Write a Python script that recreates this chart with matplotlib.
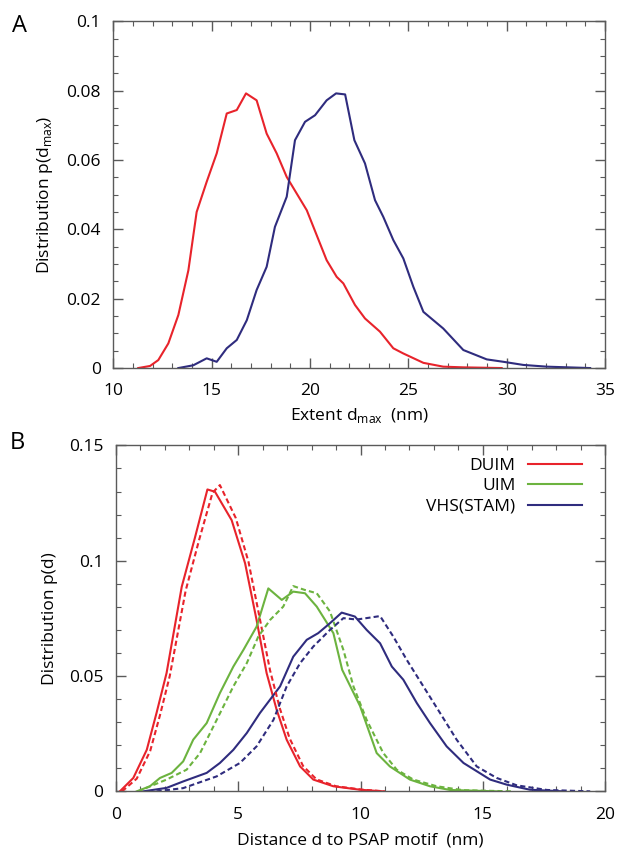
import matplotlib
matplotlib.use("Agg")
import matplotlib.pyplot as plt
from matplotlib.ticker import MultipleLocator

plt.rcParams['font.family'] = ['Open Sans', 'DejaVu Sans']

RED = '#e8232b'
GREEN = '#6cb33f'
BLUE = '#2f2c7e'

# Panel A: extent d_max (nm) distributions
a_red_x = [11.26, 11.86, 12.28, 12.79, 13.30, 13.81, 14.23, 14.74, 15.25, 15.76, 16.27, 16.74,
           17.28, 17.79, 18.30, 18.81, 19.83, 20.84, 21.35, 21.69, 22.28, 22.79, 23.55, 24.23,
           24.74, 25.76, 26.77, 27.79, 29.74]
a_red_y = [0.0, 0.0006, 0.0023, 0.0071, 0.0153, 0.0282, 0.045, 0.0537, 0.0619, 0.0734, 0.0744, 0.0792,
           0.0772, 0.0676, 0.0619, 0.0551, 0.0455, 0.0311, 0.0263, 0.0244, 0.0182, 0.0143, 0.0105, 0.0057,
           0.0042, 0.0015, 0.0004, 0.0002, 0.0]
a_blue_x = [13.3, 14.06, 14.74, 15.25, 15.76, 16.27, 16.78, 17.28, 17.79, 18.21, 18.81, 19.23,
            19.74, 20.25, 20.84, 21.32, 21.78, 22.25, 22.79, 23.30, 23.72, 24.23, 24.74, 25.25,
            25.76, 26.77, 27.79, 28.98, 29.83, 30.84, 32.03, 34.24]
a_blue_y = [0.0, 0.0008, 0.0028, 0.0018, 0.0057, 0.0081, 0.0138, 0.0225, 0.0292, 0.0407, 0.0494, 0.0657,
            0.0710, 0.0729, 0.0772, 0.0792, 0.0789, 0.0657, 0.059, 0.0484, 0.0436, 0.0369, 0.0316, 0.0234,
            0.0162, 0.0114, 0.0052, 0.0025, 0.0018, 0.0009, 0.0004, 0.0]

# Panel B: distance d to PSAP motif (nm), solid and dashed per construct
duim_x = [0.16, 0.71, 1.26, 1.66, 2.07, 2.69, 3.23, 3.74, 4.05, 4.73, 5.28, 5.75, 6.16, 6.57,
          6.98, 7.53, 8.07, 8.89, 9.98, 10.93]
duim_y = [0.0, 0.0058, 0.018, 0.034, 0.0513, 0.0887, 0.110, 0.1309, 0.1299, 0.1176, 0.0989, 0.0743,
          0.0513, 0.0354, 0.0224, 0.0108, 0.0051, 0.0022, 0.0007, 0.0]
duim_dash_x = [0.25, 0.85, 1.4, 1.8, 2.2, 2.85, 3.4, 3.95, 4.25, 4.9, 5.42, 5.88, 6.3, 6.7,
               7.1, 7.65, 8.2, 9.0, 10.1, 11.0]
duim_dash_y = [0.0, 0.0055, 0.0175, 0.033, 0.050, 0.087, 0.109, 0.1295, 0.1328, 0.1185, 0.0995, 0.075,
               0.0525, 0.036, 0.023, 0.011, 0.0052, 0.0022, 0.0007, 0.0]

uim_x = [0.85, 1.39, 1.8, 2.28, 2.75, 3.16, 3.71, 4.25, 4.80, 5.21, 5.75, 6.23, 6.78, 7.25, 7.73,
         8.21, 8.89, 9.25, 9.98, 10.66, 11.2, 12.02, 12.84, 13.66, 15.57]
uim_y = [0.0, 0.0022, 0.0058, 0.008, 0.013, 0.0224, 0.0296, 0.0426, 0.0541, 0.0613, 0.0714, 0.088,
         0.083, 0.0866, 0.0859, 0.0801, 0.0686, 0.0527, 0.037, 0.0166, 0.0108, 0.0051, 0.0022, 0.0006, 0.0]
uim_dash_x = [0.9, 2.07, 2.89, 3.44, 4.12, 4.80, 5.35, 5.82, 6.30, 6.84, 7.25, 7.73, 8.21, 8.75,
              9.30, 9.71, 10.25, 10.93, 11.48, 12.16, 13.12, 14.2, 16.2]
uim_dash_y = [0.0, 0.0051, 0.0094, 0.0166, 0.031, 0.0455, 0.0556, 0.0671, 0.0743, 0.0801, 0.089, 0.0873,
              0.0859, 0.078, 0.0613, 0.0455, 0.031, 0.0166, 0.0094, 0.0051, 0.0022, 0.0005, 0.0]

vhs_x = [1.12, 2.07, 2.75, 3.71, 4.25, 4.80, 5.35, 5.89, 6.71, 7.25, 7.80, 8.27, 8.75, 9.23, 9.77,
         10.25, 10.80, 11.28, 11.75, 12.30, 12.84, 13.52, 14.21, 15.3, 15.98, 16.93, 18.3]
vhs_y = [0.0, 0.0015, 0.0043, 0.008, 0.0123, 0.018, 0.0253, 0.034, 0.0455, 0.0584, 0.0657, 0.0686,
         0.0729, 0.0775, 0.0758, 0.07, 0.0642, 0.0541, 0.0484, 0.0383, 0.0296, 0.0195, 0.0123, 0.0051,
         0.0029, 0.0007, 0.0]
vhs_dash_x = [1.66, 2.75, 4.12, 5.07, 5.75, 6.44, 6.98, 7.53, 8.07, 8.75, 9.30, 9.84, 10.3, 10.80,
              11.34, 11.89, 12.57, 13.25, 13.93, 14.75, 15.57, 16.39, 17.62, 19.39]
vhs_dash_y = [0.0, 0.0014, 0.0065, 0.0123, 0.0195, 0.031, 0.0455, 0.0556, 0.0628, 0.07, 0.0751, 0.0745,
              0.0752, 0.076, 0.0671, 0.057, 0.0455, 0.034, 0.0224, 0.0108, 0.0058, 0.0026, 0.0006, 0.0]

a_yticks = [0, 0.02, 0.04, 0.06, 0.08, 0.1]
a_ylabels = ['0', '0.02', '0.04', '0.06', '0.08', '0.1']
b_yticks = [0, 0.05, 0.1, 0.15]
b_ylabels = ['0', '0.05', '0.1', '0.15']


def style_axes(ax):
    for s in ax.spines.values():
        s.set_color('#5a5a5a')
        s.set_linewidth(1.0)
    ax.tick_params(which='both', direction='in', top=True, right=True, colors='#5a5a5a',
                   labelcolor='black', labelsize=12.5)
    ax.tick_params(which='major', length=7, width=1.0)
    ax.tick_params(which='minor', length=3.5, width=0.8)
    ax.tick_params(axis='y', pad=9)
    ax.tick_params(axis='x', pad=11)


fig = plt.figure(figsize=(6.2, 8.5), dpi=100)

# Panel A
ax1 = fig.add_axes([0.183, 0.567, 0.793, 0.408])
ax1.plot(a_red_x, a_red_y, color=RED, lw=1.5)
ax1.plot(a_blue_x, a_blue_y, color=BLUE, lw=1.5)
ax1.set_xlim(10, 35)
ax1.set_ylim(0, 0.1)
ax1.xaxis.set_major_locator(MultipleLocator(5))
ax1.xaxis.set_minor_locator(MultipleLocator(1))
ax1.set_yticks(a_yticks)
ax1.set_yticklabels(a_ylabels)
ax1.yaxis.set_minor_locator(MultipleLocator(0.005))
style_axes(ax1)
ax1.set_xlabel('Extent d$_\\mathregular{max}$  (nm)', fontsize=12.5, labelpad=5)
ax1.set_ylabel('Distribution p(d$_\\mathregular{max}$)', fontsize=12.5, labelpad=8)
fig.text(0.02, 0.984, 'A', fontsize=17, va='top', ha='left')

# Panel B
ax2 = fig.add_axes([0.187, 0.069, 0.789, 0.407])
ax2.plot(duim_x, duim_y, color=RED, lw=1.5, label='DUIM')
ax2.plot(uim_x, uim_y, color=GREEN, lw=1.5, label='UIM')
ax2.plot(vhs_x, vhs_y, color=BLUE, lw=1.5, label='VHS(STAM)')
ax2.plot(duim_dash_x, duim_dash_y, color=RED, lw=1.5, ls=(0, (2.5, 1.5)))
ax2.plot(uim_dash_x, uim_dash_y, color=GREEN, lw=1.5, ls=(0, (2.5, 1.5)))
ax2.plot(vhs_dash_x, vhs_dash_y, color=BLUE, lw=1.5, ls=(0, (2.5, 1.5)))
ax2.set_xlim(0, 20)
ax2.set_ylim(0, 0.15)
ax2.xaxis.set_major_locator(MultipleLocator(5))
ax2.xaxis.set_minor_locator(MultipleLocator(1))
ax2.set_yticks(b_yticks)
ax2.set_yticklabels(b_ylabels)
ax2.yaxis.set_minor_locator(MultipleLocator(0.01))
style_axes(ax2)
ax2.set_xlabel('Distance d to PSAP motif  (nm)', fontsize=12.5, labelpad=7)
ax2.set_ylabel('Distribution p(d)', fontsize=12.5, labelpad=8)
leg = ax2.legend(loc='upper right', frameon=False, markerfirst=False, fontsize=12.5,
                 handlelength=3.1, handletextpad=0.75, labelspacing=0.25,
                 bbox_to_anchor=(0.985, 1.01))
fig.text(0.016, 0.493, 'B', fontsize=17, va='top', ha='left')

fig.savefig('out.png', dpi=100)
